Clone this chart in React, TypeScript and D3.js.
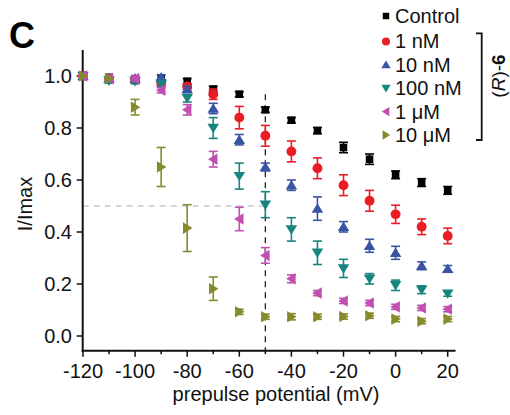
import React from "react";
import * as d3 from "d3";

const voltages = [-120, -110, -100, -90, -80, -70, -60, -50, -40, -30, -20, -10, 0, 10, 20];
const seriesNames = ["Control", "1 nM", "10 nM", "100 nM", "1 \u03bcM", "10 \u03bcM"];
const seriesColors = ["#000000", "#ec1c24", "#3a54a4", "#16857f", "#c04fb0", "#858b2b"];
const seriesShapes = ["square", "circle", "up", "down", "left", "right"];

const controlVals = [1.0, 0.995, 0.99, 0.99, 0.98, 0.95, 0.93, 0.87, 0.83, 0.79, 0.725, 0.68, 0.62, 0.59, 0.56];
const controlErr = [0.005, 0.005, 0.005, 0.005, 0.01, 0.01, 0.01, 0.01, 0.01, 0.012, 0.02, 0.02, 0.015, 0.015, 0.015];
const nM1Vals = [1.0, 0.99, 0.985, 0.975, 0.96, 0.93, 0.84, 0.77, 0.71, 0.645, 0.58, 0.52, 0.468, 0.42, 0.385];
const nM1Err = [0.005, 0.005, 0.01, 0.01, 0.01, 0.02, 0.043, 0.04, 0.04, 0.04, 0.04, 0.04, 0.035, 0.03, 0.03];
const nM10Vals = [1.0, 0.99, 0.99, 0.995, 0.95, 0.875, 0.755, 0.65, 0.58, 0.49, 0.42, 0.347, 0.32, 0.27, 0.258];
const nM10Err = [0.005, 0.005, 0.005, 0.01, 0.01, 0.02, 0.02, 0.015, 0.02, 0.045, 0.02, 0.025, 0.025, 0.015, 0.013];
const nM100Vals = [1.0, 0.982, 0.98, 0.97, 0.915, 0.8, 0.615, 0.505, 0.41, 0.32, 0.26, 0.22, 0.195, 0.178, 0.163];
const nM100Err = [0.005, 0.01, 0.01, 0.01, 0.015, 0.04, 0.05, 0.05, 0.045, 0.045, 0.035, 0.02, 0.02, 0.015, 0.01];
const uM1Vals = [1.0, 0.99, 0.99, 0.945, 0.87, 0.68, 0.45, 0.31, 0.22, 0.165, 0.135, 0.127, 0.112, 0.108, 0.103];
const uM1Err = [0.005, 0.005, 0.01, 0.01, 0.02, 0.03, 0.045, 0.03, 0.015, 0.01, 0.01, 0.01, 0.01, 0.01, 0.01];
const uM10Vals = [1.0, 0.99, 0.88, 0.65, 0.415, 0.182, 0.093, 0.074, 0.074, 0.074, 0.075, 0.078, 0.065, 0.057, 0.065];
const uM10Err = [0.005, 0.005, 0.03, 0.075, 0.09, 0.045, 0.01, 0.01, 0.012, 0.01, 0.01, 0.01, 0.01, 0.01, 0.01];

const allVals = [controlVals, nM1Vals, nM10Vals, nM100Vals, uM1Vals, uM10Vals];
const allErrs = [controlErr, nM1Err, nM10Err, nM100Err, uM1Err, uM10Err];

const xTicks = [-120, -100, -80, -60, -40, -20, 0, 20];
const xMinorTicks = [-110, -90, -70, -50, -30, -10, 10];
const yTicks = [0, 0.2, 0.4, 0.6, 0.8, 1.0];

const FONT = "Liberation Sans, Arial, Helvetica, sans-serif";

function Marker({ shape, cx, cy, s, color }: { shape: string; cx: number; cy: number; s: number; color: string }) {
  if (shape === "square") {
    return <rect x={cx - s * 0.36} y={cy - s * 0.36} width={s * 0.72} height={s * 0.72} fill={color} />;
  }
  if (shape === "circle") {
    return <circle cx={cx} cy={cy} r={s * 0.47} fill={color} />;
  }
  const h = s * 0.5;
  let pts: [number, number][] = [];
  if (shape === "up") pts = [[cx, cy - h], [cx + h * 1.1, cy + h * 0.8], [cx - h * 1.1, cy + h * 0.8]];
  if (shape === "down") pts = [[cx, cy + h], [cx + h * 1.1, cy - h * 0.8], [cx - h * 1.1, cy - h * 0.8]];
  if (shape === "left") pts = [[cx - h, cy], [cx + h * 0.8, cy - h * 1.1], [cx + h * 0.8, cy + h * 1.1]];
  if (shape === "right") pts = [[cx + h, cy], [cx - h * 0.8, cy - h * 1.1], [cx - h * 0.8, cy + h * 1.1]];
  return <polygon points={pts.map((p) => p.join(",")).join(" ")} fill={color} />;
}

export default function App() {
  const x = d3.scaleLinear().domain([-120, 20]).range([83, 447.7]);
  const y = d3.scaleLinear().domain([0, 1]).range([336, 76]);
  const xAxisY = 350.7;
  const yAxisX = 82.7;
  const yTop = 50;
  const xRight = x(23);

  return (
    <svg width={510} height={415} style={{ position: "absolute", left: 0, top: 0, background: "#fff" }} fontFamily={FONT}>
      <text x={9} y={48} fontSize={36} fontWeight="bold">C</text>

      <line x1={yAxisX} x2={x(-50)} y1={y(0.5)} y2={y(0.5)} stroke="#c8c8c8" strokeWidth={1.3} strokeDasharray="6,5" />
      <line x1={x(-50)} x2={x(-50)} y1={y(0.93)} y2={xAxisY} stroke="#222" strokeWidth={1.3} strokeDasharray="6,5" />

      <line x1={yAxisX} x2={yAxisX} y1={yTop} y2={xAxisY + 1} stroke="#111" strokeWidth={2} />
      <line x1={yAxisX - 1} x2={xRight} y1={xAxisY} y2={xAxisY} stroke="#111" strokeWidth={2} />
      {yTicks.map((t) => (
        <g key={"yt" + t}>
          <line x1={yAxisX - 6} x2={yAxisX} y1={y(t)} y2={y(t)} stroke="#111" strokeWidth={1.5} />
          <text x={72} y={y(t)} dy="0.35em" textAnchor="end" fontSize={20} fill="#111">{t.toFixed(1)}</text>
        </g>
      ))}
      {xTicks.map((t) => (
        <g key={"xt" + t}>
          <line x1={x(t)} x2={x(t)} y1={xAxisY} y2={xAxisY + 6} stroke="#111" strokeWidth={1.5} />
          <text x={x(t)} y={378} textAnchor="middle" fontSize={20} fill="#111">{t}</text>
        </g>
      ))}
      {xMinorTicks.map((t) => (
        <line key={"xm" + t} x1={x(t)} x2={x(t)} y1={xAxisY} y2={xAxisY + 3.5} stroke="#111" strokeWidth={1.5} />
      ))}
      <text x={276} y={401} textAnchor="middle" fontSize={20} fill="#111">prepulse potential (mV)</text>
      <text transform="translate(32,204) rotate(-90)" textAnchor="middle" fontSize={20} fill="#111">I/Imax</text>

      {allVals.map((vals, si) => (
        <g key={"s" + si}>
          {vals.map((v, i) => {
            const e = allErrs[si][i];
            const cx = x(voltages[i]);
            const col = seriesColors[si];
            return (
              <g key={i}>
                {e > 0.006 && (
                  <g stroke={col} strokeWidth={1.6}>
                    <line x1={cx} x2={cx} y1={y(v - e)} y2={y(v + e)} />
                    <line x1={cx - 4.5} x2={cx + 4.5} y1={y(v - e)} y2={y(v - e)} />
                    <line x1={cx - 4.5} x2={cx + 4.5} y1={y(v + e)} y2={y(v + e)} />
                  </g>
                )}
                <Marker shape={seriesShapes[si]} cx={cx} cy={y(v)} s={10.5} color={col} />
              </g>
            );
          })}
        </g>
      ))}

      {seriesNames.map((name, i) => {
        const cy = 16 + i * 23.4 + (i > 0 ? 2 : 0);
        return (
          <g key={"lg" + i}>
            <Marker shape={seriesShapes[i]} cx={386} cy={cy} s={i === 0 ? 9 : 8.5} color={seriesColors[i]} />
            <text x={395} y={cy + 7} fontSize={20} fill="#111">{name}</text>
          </g>
        );
      })}
      <path d="M476,33.3 H481.7 V140 H476" fill="none" stroke="#111" strokeWidth={1.8} />
      <text transform="translate(505,76) rotate(-90)" textAnchor="middle" fontSize={19} fill="#111">
        (<tspan fontStyle="italic">R</tspan>)-<tspan fontWeight="bold">6</tspan>
      </text>
    </svg>
  );
}
